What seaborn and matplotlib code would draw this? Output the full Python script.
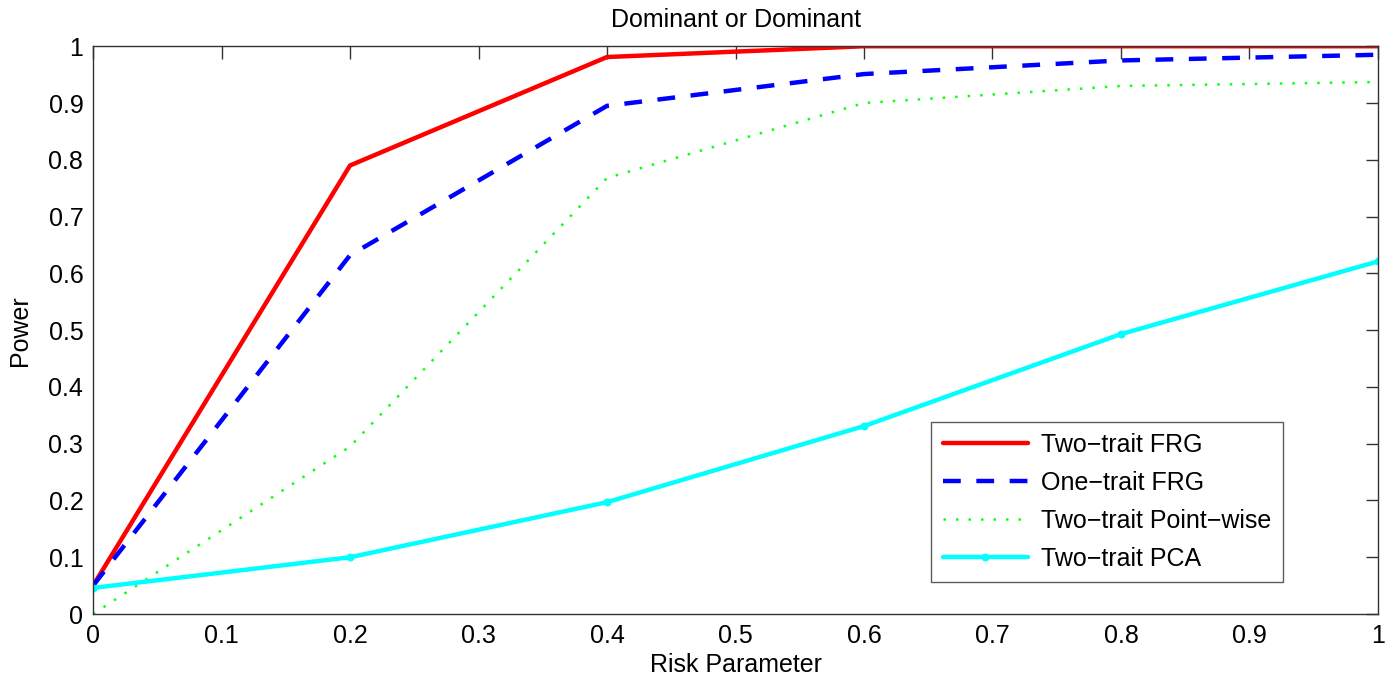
import matplotlib
matplotlib.use("Agg")
import matplotlib.pyplot as plt
import seaborn as sns
import pandas as pd

risk = [0.0, 0.2, 0.4, 0.6, 0.8, 1.0]
two_trait_frg = [0.05, 0.79, 0.981, 1.0, 1.0, 1.0]
one_trait_frg = [0.05, 0.632, 0.895, 0.951, 0.975, 0.985]
two_trait_pw = [0.0, 0.295, 0.768, 0.90, 0.93, 0.937]
two_trait_pca = [0.046, 0.100, 0.197, 0.331, 0.493, 0.621]

labels = ["Two\u2212trait FRG", "One\u2212trait FRG", "Two\u2212trait Point\u2212wise", "Two\u2212trait PCA"]
xticks = [0, 0.1, 0.2, 0.3, 0.4, 0.5, 0.6, 0.7, 0.8, 0.9, 1]
yticks = [0, 0.1, 0.2, 0.3, 0.4, 0.5, 0.6, 0.7, 0.8, 0.9, 1]

sns.set_theme(style="white")
plt.rcParams['font.family'] = ['Liberation Sans', 'DejaVu Sans']
plt.rcParams['text.color'] = 'black'
plt.rcParams['axes.labelcolor'] = 'black'

fig = plt.figure(figsize=(13.93, 6.8), dpi=100)
ax = fig.add_axes([0.0668, 0.097, 0.9224, 0.835])

series = [two_trait_frg, one_trait_frg, two_trait_pw, two_trait_pca]
styles = [
    dict(color="#ff0000", linewidth=3.2, linestyle="-"),
    dict(color="#0000ff", linewidth=3.2, linestyle=(0, (4, 3.5))),
    dict(color="#11ff11", linewidth=1.8, linestyle=(0, (1, 4))),
    dict(color="#00ffff", linewidth=3.2, linestyle="-", marker="o", markersize=5,
         markeredgecolor="#00ffff", markerfacecolor="#00ffff"),
]
for vals, lab, st in zip(series, labels, styles):
    df = pd.DataFrame({"x": risk, "y": vals})
    sns.lineplot(data=df, x="x", y="y", ax=ax, label=lab, **st)

fs = 18
ax.set_xlim(0, 1)
ax.set_ylim(0, 1)
ax.set_xticks(xticks)
ax.set_yticks(yticks)
ax.set_xticklabels([f"{t:g}" for t in xticks])
ax.set_yticklabels([f"{t:g}" for t in yticks])
ax.tick_params(direction="in", length=9, width=1, top=True, right=True,
               labelsize=fs, pad=7)
ax.tick_params(axis="both", colors="#333333", labelcolor="black")
for s in ax.spines.values():
    s.set_color("#333333")
    s.set_linewidth(1)
ax.set_xlabel("Risk Parameter", fontsize=fs, labelpad=4)
ax.set_ylabel("Power", fontsize=fs, labelpad=12)
ax.set_title("Dominant or Dominant", fontsize=fs, pad=14)

leg = ax.legend(loc="lower right", bbox_to_anchor=(0.926, 0.056), fontsize=fs,
                frameon=True, fancybox=False, edgecolor="#333333", handlelength=3.4,
                borderpad=0.45, labelspacing=0.56, handletextpad=0.55, borderaxespad=0)
leg.get_frame().set_linewidth(1)

fig.savefig("out.png", dpi=100)
